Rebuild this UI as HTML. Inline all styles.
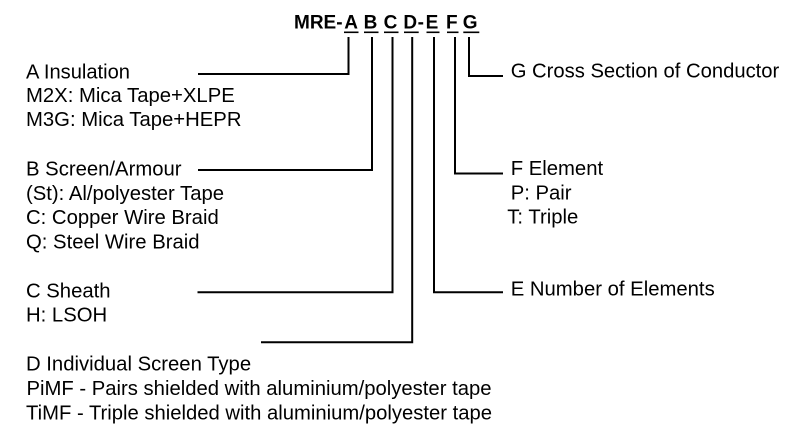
<!DOCTYPE html>
<html>
<head>
<meta charset="utf-8">
<style>
  html, body { margin: 0; padding: 0; background: #fff; }
  body { width: 803px; height: 440px; overflow: hidden; }
  svg { display: block; }
  text { font-family: "Liberation Sans", Arial, sans-serif; fill: #000; }
  .t { font-size: 20.3px; }
  .b { font-size: 19px; font-weight: bold; }
</style>
</head>
<body>
<svg width="803" height="440" viewBox="0 0 803 440" xmlns="http://www.w3.org/2000/svg">
  <!-- Title -->
  <text class="b" x="294" y="28.3">MRE-</text>
  <text class="b" x="344.3" y="28.3">A</text>
  <text class="b" x="363.6" y="28.3">B</text>
  <text class="b" x="383.6" y="28.3">C</text>
  <text class="b" x="403.4" y="28.3">D</text>
  <text class="b" x="417.6" y="28.3">-</text>
  <text class="b" x="425.6" y="28.3">E</text>
  <text class="b" x="446" y="28.3">F</text>
  <text class="b" x="462.8" y="28.3">G</text>

  <!-- Underlines -->
  <g stroke="#000" stroke-width="1.6" fill="none">
    <line x1="344" y1="32.3" x2="358.5" y2="32.3"/>
    <line x1="364" y1="32.3" x2="378.5" y2="32.3"/>
    <line x1="384" y1="32.3" x2="398.5" y2="32.3"/>
    <line x1="404" y1="32.3" x2="418.7" y2="32.3"/>
    <line x1="426.5" y1="32.3" x2="439.5" y2="32.3"/>
    <line x1="447" y1="32.3" x2="458.5" y2="32.3"/>
    <line x1="463.3" y1="32.3" x2="479.3" y2="32.3"/>
  </g>

  <!-- Connectors -->
  <g stroke="#000" stroke-width="2" fill="none" stroke-linejoin="miter">
    <polyline points="348.5,37 348.5,74 198,74"/>
    <polyline points="372,37 372,170 198,170"/>
    <polyline points="392.5,37 392.5,292.3 197.5,292.3"/>
    <polyline points="412.2,37 412.2,342.2 261,342.2"/>
    <polyline points="434,37 434,292.3 503,292.3"/>
    <polyline points="455,37 455,173.5 503,173.5"/>
    <polyline points="469,37 469,76 503,76"/>
  </g>

  <!-- A -->
  <text class="t" x="26" y="78.3" textLength="104" lengthAdjust="spacingAndGlyphs">A Insulation</text>
  <text class="t" x="26" y="102">M2X: Mica Tape+XLPE</text>
  <text class="t" x="26" y="126">M3G: Mica Tape+HEPR</text>

  <!-- B -->
  <text class="t" x="26" y="175.7">B Screen/Armour</text>
  <text class="t" x="26" y="200">(St): Al/polyester Tape</text>
  <text class="t" x="26" y="224">C: Copper Wire Braid</text>
  <text class="t" x="26" y="248.3">Q: Steel Wire Braid</text>

  <!-- C -->
  <text class="t" x="26" y="297.3">C Sheath</text>
  <text class="t" x="26" y="321.7">H: LSOH</text>

  <!-- D -->
  <text class="t" x="26" y="370.7">D Individual Screen Type</text>
  <text class="t" x="26.5" y="395" textLength="465" lengthAdjust="spacingAndGlyphs">PiMF - Pairs shielded with aluminium/polyester tape</text>
  <text class="t" x="26" y="419.3" textLength="466" lengthAdjust="spacingAndGlyphs">TiMF - Triple shielded with aluminium/polyester tape</text>

  <!-- G -->
  <text class="t" x="510.7" y="77.7" textLength="268.6" lengthAdjust="spacingAndGlyphs">G Cross Section of Conductor</text>

  <!-- F -->
  <text class="t" x="510.7" y="175">F Element</text>
  <text class="t" x="510.7" y="199.3">P: Pair</text>
  <text class="t" x="507.3" y="223.3">T: Triple</text>

  <!-- E -->
  <text class="t" x="510.7" y="295.7">E Number of Elements</text>
</svg>
</body>
</html>
